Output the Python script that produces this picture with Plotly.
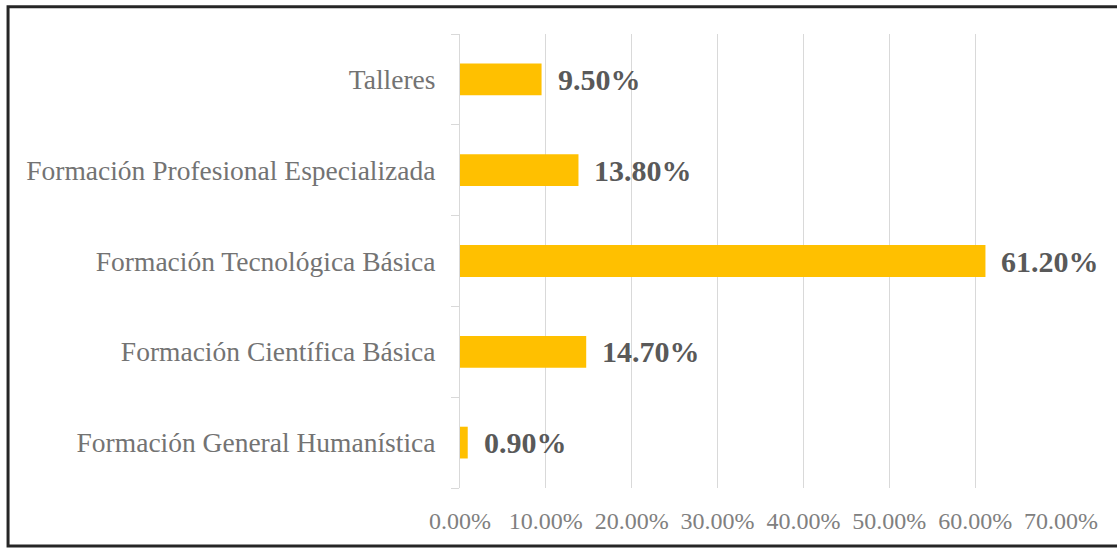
import plotly.graph_objects as go

categories = [
    "Formación General Humanística",
    "Formación Científica Básica",
    "Formación Tecnológica Básica",
    "Formación Profesional Especializada",
    "Talleres",
]
values = [0.009, 0.147, 0.612, 0.138, 0.095]
labels = ["0.90%", "14.70%", "61.20%", "13.80%", "9.50%"]
x_ticks = [0, 0.1, 0.2, 0.3, 0.4, 0.5, 0.6, 0.7]
x_ticktext = ["0.00%", "10.00%", "20.00%", "30.00%", "40.00%", "50.00%", "60.00%", "70.00%"]

SERIF = "Liberation Serif, Times New Roman, serif"

fig = go.Figure()
fig.add_trace(go.Bar(
    x=values,
    y=categories,
    orientation="h",
    marker=dict(color="#FFC000", line=dict(width=0)),
    width=0.35,
    hoverinfo="skip",
))

# etiquetas de datos a la derecha de cada barra
for v, c, t in zip(values, categories, labels):
    fig.add_annotation(
        x=v, y=c, text=f"<b>{t}</b>",
        xanchor="left", yanchor="middle", xshift=14, showarrow=False,
        font=dict(family=SERIF, size=30, color="#595959"),
    )

# marco negro alrededor del gráfico
fig.add_shape(
    type="rect", xref="paper", yref="paper",
    x0=-0.752, x1=1.15, y0=-0.128, y1=1.06,
    line=dict(color="#262626", width=3),
)

fig.update_layout(
    width=1117, height=548,
    margin=dict(l=460, r=56, t=34, b=60),
    paper_bgcolor="white",
    plot_bgcolor="white",
    showlegend=False,
    xaxis=dict(
        range=[0, 0.7],
        tickvals=x_ticks,
        ticktext=x_ticktext,
        showgrid=True,
        gridcolor="#d9d9d9",
        gridwidth=1,
        zeroline=False,
        showline=False,
        tickfont=dict(family=SERIF, size=24, color="#808080"),
        ticklabelstandoff=16,
    ),
    yaxis=dict(
        showline=True,
        linecolor="#d9d9d9",
        linewidth=1,
        ticks="outside",
        ticklen=8,
        tickcolor="#d9d9d9",
        tickson="boundaries",
        showgrid=False,
        tickfont=dict(family=SERIF, size=27.5, color="#737373"),
        ticklabelstandoff=18,
    ),
)

fig.write_html("out.html", config={"displayModeBar": False},
               post_script="document.body.style.margin='0';")
